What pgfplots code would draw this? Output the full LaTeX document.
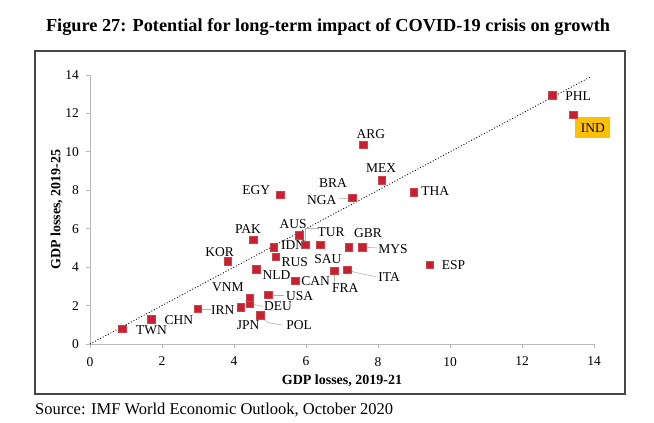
\documentclass[border=0pt]{standalone}
\usepackage{pgfplots}
\pgfplotsset{compat=1.18}
\usepackage{pgfplotstable}
\usepackage{fontspec}
\setmainfont{Liberation Serif}
\definecolor{mk}{RGB}{200,32,46}
\definecolor{indbox}{RGB}{255,192,0}
\definecolor{framec}{RGB}{70,70,70}
\pgfplotstableread{
name x y
TWN 0.90 0.78
CHN 1.70 1.29
IRN 3.00 1.83
JPN 4.19 1.91
DEU 4.44 2.12
VNM 4.43 2.42
POL 4.73 1.50
USA 4.95 2.56
NLD 4.62 3.90
CAN 5.70 3.30
KOR 3.82 4.31
PAK 4.54 5.44
IDN 5.10 5.03
RUS 5.16 4.54
AUS 5.81 5.67
TUR 5.98 5.16
SAU 6.40 5.16
FRA 6.78 3.81
ITA 7.15 3.86
GBR 7.18 5.04
MYS 7.56 5.04
ARG 7.59 10.37
EGY 5.28 7.77
BRA 7.30 7.62
NGA 7.29 7.60
MEX 8.11 8.52
THA 8.99 7.89
ESP 9.44 4.14
PHL 12.84 12.95
IND 13.42 11.93
}\countries
\pgfplotstableread{
x y
0 0
13.88 13.88
}\diag
\begin{document}
\begin{tikzpicture}
\path[use as bounding box] (0,0) rectangle (654pt,423pt);
\draw[framec, line width=1.4pt] (35pt,29pt) rectangle (625pt,372pt);
\node[font=\fontsize{18.3}{21}\selectfont\bfseries] at (328pt,396pt) {Figure 27: Potential for long-term impact of COVID-19 crisis on growth};
\node[anchor=west, inner sep=0pt, font=\fontsize{16.5}{19}\selectfont] at (35pt,13pt) {Source: IMF World Economic Outlook, October 2020};
\begin{axis}[
  at={(90pt,79pt)}, anchor=south west,
  scale only axis, width=504pt, height=269pt,
  xmin=0, xmax=14, ymin=0, ymax=14,
  xtick={0,2,...,14}, ytick={0,2,...,14},
  axis x line*=bottom, axis y line*=left,
  axis line style={-, gray!55, line width=0.9pt},
  tick align=outside, major tick length=4.5pt,
  tick style={gray!55, line width=0.8pt},
  /pgf/number format/assume math mode=true,
  ticklabel style={font=\fontsize{13.5}{15}\selectfont},
  xticklabel style={yshift=-5pt},
  yticklabel style={xshift=-3pt},
  xlabel={\bfseries GDP losses, 2019-21},
  ylabel={\bfseries GDP losses, 2019-25},
  label style={font=\fontsize{14}{16}\selectfont},
  xlabel style={yshift=-2pt},
  ylabel style={yshift=-4pt},
  clip=false,
]
\addplot[black, dotted, line width=0.9pt] table[x=x,y=y] {\diag};
% leaders
\begin{scope}[gray!60, line width=0.6pt]
\draw (axis cs:3.0,1.83) -- (axis cs:3.35,1.83);
\draw (axis cs:4.44,2.12) -- (axis cs:4.80,1.95);
\draw (axis cs:4.73,1.50) .. controls (axis cs:4.9,1.1) .. (axis cs:5.35,0.99);
\draw (axis cs:4.95,2.56) -- (axis cs:5.40,2.56);
\draw (axis cs:5.98,5.16) -- (axis cs:5.98,6.0) -- (axis cs:6.30,6.0);
\draw (axis cs:6.78,3.81) -- (axis cs:6.78,3.05);
\draw (axis cs:7.15,3.86) .. controls (axis cs:7.4,3.7) .. (axis cs:7.95,3.51);
\draw (axis cs:7.56,5.04) -- (axis cs:8.0,5.0);
\draw (axis cs:7.29,7.60) -- (axis cs:6.90,7.55);
\end{scope}
\addplot[only marks, mark=square*, mark size=3.7pt, mark options={draw=mk!85!white, fill=mk, line width=0.5pt}] table[x=x,y=y] {\countries};
\begin{scope}[every node/.style={font=\fontsize{13.5}{15}\selectfont, inner sep=0pt}]
\node at (axis cs:1.71,0.73) {TWN};
\node at (axis cs:2.47,1.22) {CHN};
\node at (axis cs:3.69,1.77) {IRN};
\node at (axis cs:4.39,0.99) {JPN};
\node at (axis cs:5.22,1.95) {DEU};
\node at (axis cs:5.81,0.99) {POL};
\node at (axis cs:3.83,2.96) {VNM};
\node at (axis cs:5.82,2.50) {USA};
\node at (axis cs:5.18,3.60) {NLD};
\node at (axis cs:6.27,3.29) {CAN};
\node at (axis cs:7.09,2.90) {FRA};
\node at (axis cs:6.61,4.42) {SAU};
\node at (axis cs:5.69,4.26) {RUS};
\node at (axis cs:5.64,5.13) {IDN};
\node at (axis cs:3.60,4.78) {KOR};
\node at (axis cs:4.39,5.98) {PAK};
\node at (axis cs:5.64,6.24) {AUS};
\node at (axis cs:6.70,5.83) {TUR};
\node at (axis cs:7.72,5.77) {GBR};
\node at (axis cs:8.42,4.94) {MYS};
\node at (axis cs:8.31,3.51) {ITA};
\node at (axis cs:10.10,4.10) {ESP};
\node at (axis cs:9.59,7.94) {THA};
\node at (axis cs:8.09,9.16) {MEX};
\node at (axis cs:7.80,10.90) {ARG};
\node at (axis cs:13.56,12.90) {PHL};
\node at (axis cs:4.62,8.03) {EGY};
\node at (axis cs:6.75,8.38) {BRA};
\node at (axis cs:6.44,7.48) {NGA};
\node[fill=indbox, minimum width=35pt, minimum height=21pt] at (axis cs:13.97,11.25) {IND};
\end{scope}
\end{axis}
\end{tikzpicture}
\end{document}
